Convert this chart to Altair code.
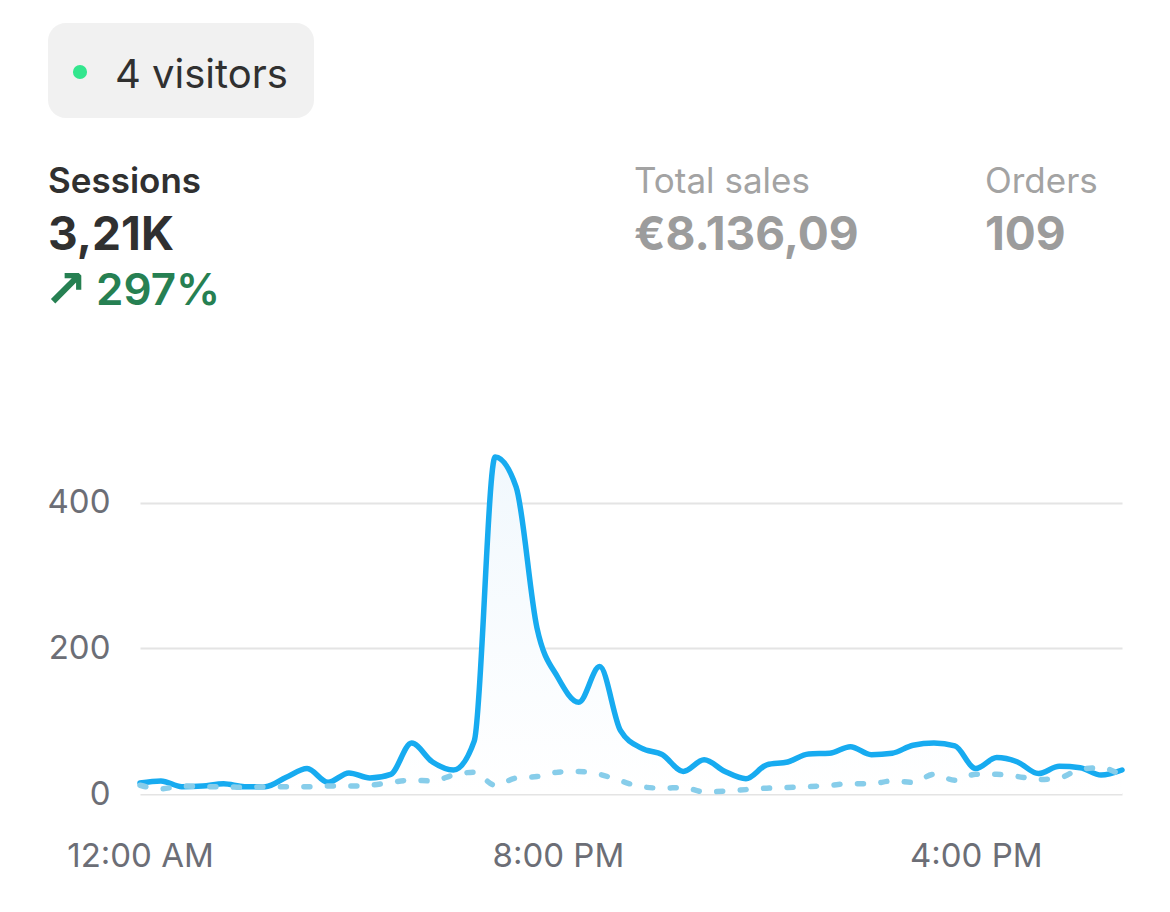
import altair as alt
import pandas as pd

# ---- data ----
hours = list(range(48))
sessions = [15, 18, 10, 11, 14, 10, 10, 23, 35, 16,
            29, 22, 27, 70, 44, 33, 73, 463, 422, 228,
            160, 126, 175, 87, 63, 54, 31, 47, 31, 21,
            40, 44, 55, 56, 65, 54, 56, 67, 70, 66,
            35, 50, 44, 28, 38, 36, 26, 33]
previous = [12, 7, 11, 10, 10, 9, 10, 10, 10, 11,
            11, 12, 16, 19, 18, 26, 30, 12, 22, 24,
            30, 31, 27, 18, 10, 8, 9, 3, 4, 6,
            8, 9, 10, 12, 14, 14, 18, 16, 27, 19,
            27, 27, 24, 20, 22, 34, 36, 25]
tick_hours = [0, 20, 40]
tick_labels = ["12:00 AM", "8:00 PM", "4:00 PM"]
y_ticks = [0, 200, 400]

badge_text = "4 visitors"
metric_titles = ["Sessions", "Total sales", "Orders"]
metric_values = ["3,21K", "€8.136,09", "109"]
change_text = "297%"

df = pd.DataFrame({"hour": hours, "sessions": sessions, "previous": previous})

# ---- layout ----
PL, PT, PR, PB = 140, 430, 48, 118
W, H = 1170 - PL - PR, 912 - PT - PB
FONT = "Inter"

label_expr = " : ".join(
    f"datum.value == {h} ? '{l}'" for h, l in zip(tick_hours, tick_labels)
) + " : ''"

x_enc = alt.X("hour:Q",
              scale=alt.Scale(domain=[0, 47], nice=False, zero=False),
              axis=alt.Axis(values=tick_hours, labelExpr=label_expr, grid=False,
                            domain=False, ticks=False, labelFontSize=33,
                            labelColor="#6c6e76", labelFont=FONT, labelPadding=46,
                            labelFlush=False, title=None))
y_scale = alt.Scale(domain=[0, 500], nice=False)
y_axis = alt.Axis(values=y_ticks, grid=True, gridColor="#e4e4e4", gridWidth=2,
                  domain=False, ticks=False, labelFontSize=33, labelColor="#6c6e76",
                  labelFont=FONT, labelPadding=30, title=None)

base = alt.Chart(df)

area = base.mark_area(
    interpolate="monotone",
    color=alt.Gradient(gradient="linear",
                       stops=[alt.GradientStop(color="#f1f8fd", offset=0),
                              alt.GradientStop(color="#ffffff", offset=1)],
                       x1=0, x2=0, y1=0, y2=1),
).encode(x=x_enc, y=alt.Y("sessions:Q", scale=y_scale, axis=y_axis))

line = base.mark_line(interpolate="monotone", color="#17abf0", strokeWidth=5.5,
                      strokeCap="round", strokeJoin="round").encode(
    x="hour:Q", y="sessions:Q")

prev = base.mark_line(interpolate="monotone", color="#87cdea", strokeWidth=5.5,
                      strokeCap="round", strokeDash=[6, 17.5]).encode(
    x="hour:Q", y="previous:Q")


def one(v):
    return pd.DataFrame({"t": [v]})


def text_layer(txt, px, py, size, weight, color, font=FONT):
    return alt.Chart(one(txt)).mark_text(
        align="left", baseline="alphabetic", fontSize=size, fontWeight=weight,
        color=color, font=font
    ).encode(text="t:N", x=alt.value(px - PL), y=alt.value(py - PT))


badge = alt.Chart(one(0)).mark_rect(color="#f1f1f1", cornerRadius=18).encode(
    x=alt.value(48 - PL), x2=alt.value(314 - PL),
    y=alt.value(23 - PT), y2=alt.value(118 - PT))
dot = alt.Chart(one(0)).mark_circle(color="#33e68e", opacity=1, size=200).encode(
    x=alt.value(80 - PL), y=alt.value(72 - PT))

texts = [
    text_layer(badge_text, 115, 88, 40, 400, "#303030"),
    text_layer(metric_titles[0], 48, 193, 35, 600, "#303030"),
    text_layer(metric_values[0], 48, 250, 46, 700, "#303030"),
    text_layer("↗", 44, 307, 52, 700, "#268052", font="DejaVu Sans"),
    text_layer(change_text, 96, 305, 44, 600, "#268052"),
    text_layer(metric_titles[1], 634, 193, 35, 400, "#a3a3a3"),
    text_layer(metric_values[1], 634, 250, 46, 700, "#9c9c9c"),
    text_layer(metric_titles[2], 985, 193, 35, 400, "#a3a3a3"),
    text_layer(metric_values[2], 985, 250, 46, 700, "#9c9c9c"),
]

chart = alt.layer(area, line, prev, badge, dot, *texts).properties(
    width=W, height=H,
    autosize=alt.AutoSizeParams(type="none"),
    padding={"left": PL, "top": PT, "right": PR, "bottom": PB},
    background="white",
).configure_view(stroke=None)

chart.save("out.html", embed_options={"renderer": "svg", "actions": False})
